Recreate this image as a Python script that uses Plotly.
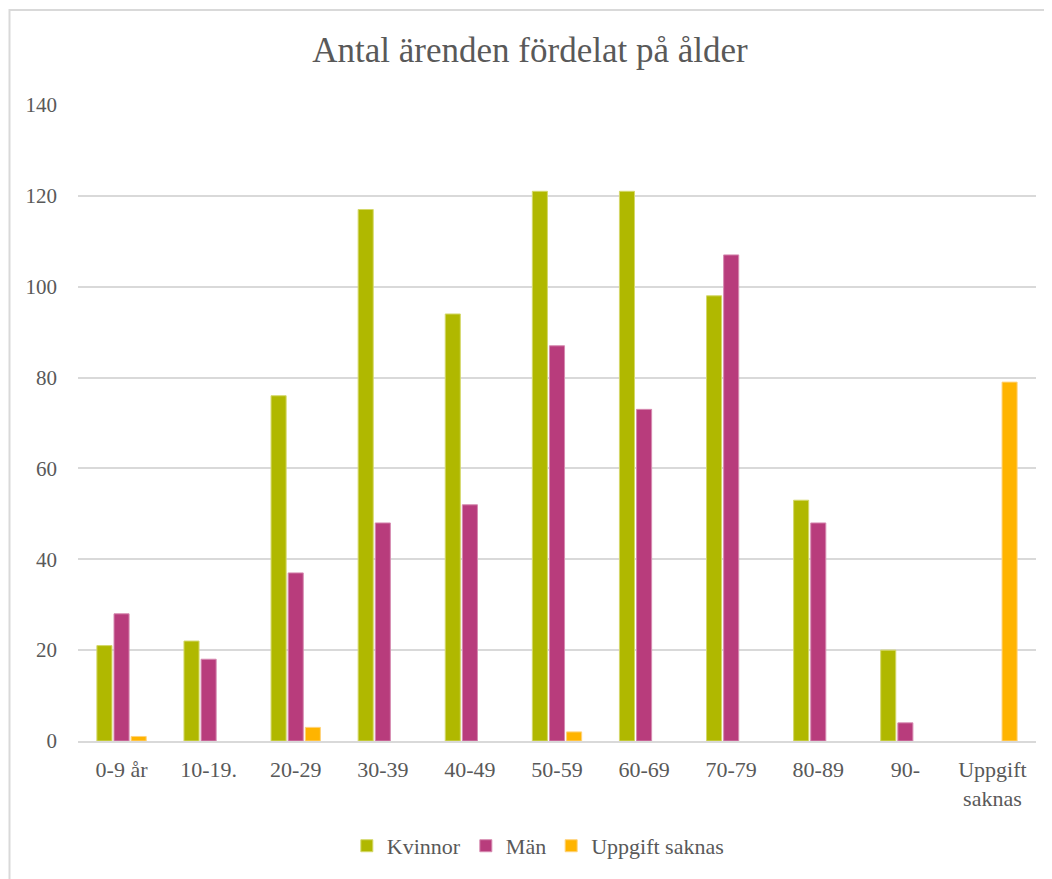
import plotly.graph_objects as go

categories = ["0-9 år", "10-19.", "20-29", "30-39", "40-49", "50-59",
              "60-69", "70-79", "80-89", "90-", "Uppgift<br>saknas"]
kvinnor = [21, 22, 76, 117, 94, 121, 121, 98, 53, 20, 0]
man = [28, 18, 37, 48, 52, 87, 73, 107, 48, 4, 0]
uppgift = [1, 0, 3, 0, 0, 2, 0, 0, 0, 0, 79]
y_ticks = [0, 20, 40, 60, 80, 100, 120, 140]

series = [("Kvinnor", kvinnor, "#B0B800", "#D4D86A"),
          ("Män", man, "#B83C7C", "#D68AB0"),
          ("Uppgift saknas", uppgift, "#FFB400", "#FFD27A")]

FONT = "Liberation Serif"
TXT = "#595959"
W, H = 1044, 871  # page body has an 8px margin

fig = go.Figure()
for name, vals, col, lc in series:
    fig.add_trace(go.Bar(name=name, x=categories, y=vals,
                         marker=dict(color=col,
                                     line=dict(color=lc, width=[1 if v > 0 else 0 for v in vals]))))

fig.update_layout(
    width=W, height=H,
    paper_bgcolor="white", plot_bgcolor="white",
    margin=dict(l=70, r=16, t=97, b=138),
    barmode="group", bargap=0.41, bargroupgap=0.12,
    title=dict(text="Antal ärenden fördelat på ålder", x=0.5, xanchor="center",
               y=1 - 42 / H, yanchor="middle",
               font=dict(family=FONT, size=35, color=TXT)),
    font=dict(family=FONT, size=22, color=TXT),
    showlegend=True,
    legend=dict(orientation="h", x=0.48, xanchor="center", y=-0.165, yanchor="middle",
                font=dict(family=FONT, size=22, color=TXT), itemwidth=30,
                traceorder="normal"),
    xaxis=dict(showgrid=False, showline=True, linecolor="#D9D9D9", linewidth=2,
               ticks="", ticklabelstandoff=8,
               tickfont=dict(family=FONT, size=22, color=TXT)),
    yaxis=dict(range=[0, 140], tickvals=y_ticks, showgrid=True, gridcolor="#D9D9D9",
               gridwidth=2, zeroline=False, showline=False, ticks="",
               ticklabelstandoff=20,
               tickfont=dict(family=FONT, size=21, color=TXT)),
    shapes=[dict(type="rect", xref="paper", yref="paper",
                 x0=(9.5 - 78) / 958, x1=1.05, y0=-0.3, y1=(741 - 10) / 636,
                 line=dict(color="#D9D9D9", width=2), fillcolor="rgba(0,0,0,0)",
                 layer="below")],
)

fig.write_html("out.html")
